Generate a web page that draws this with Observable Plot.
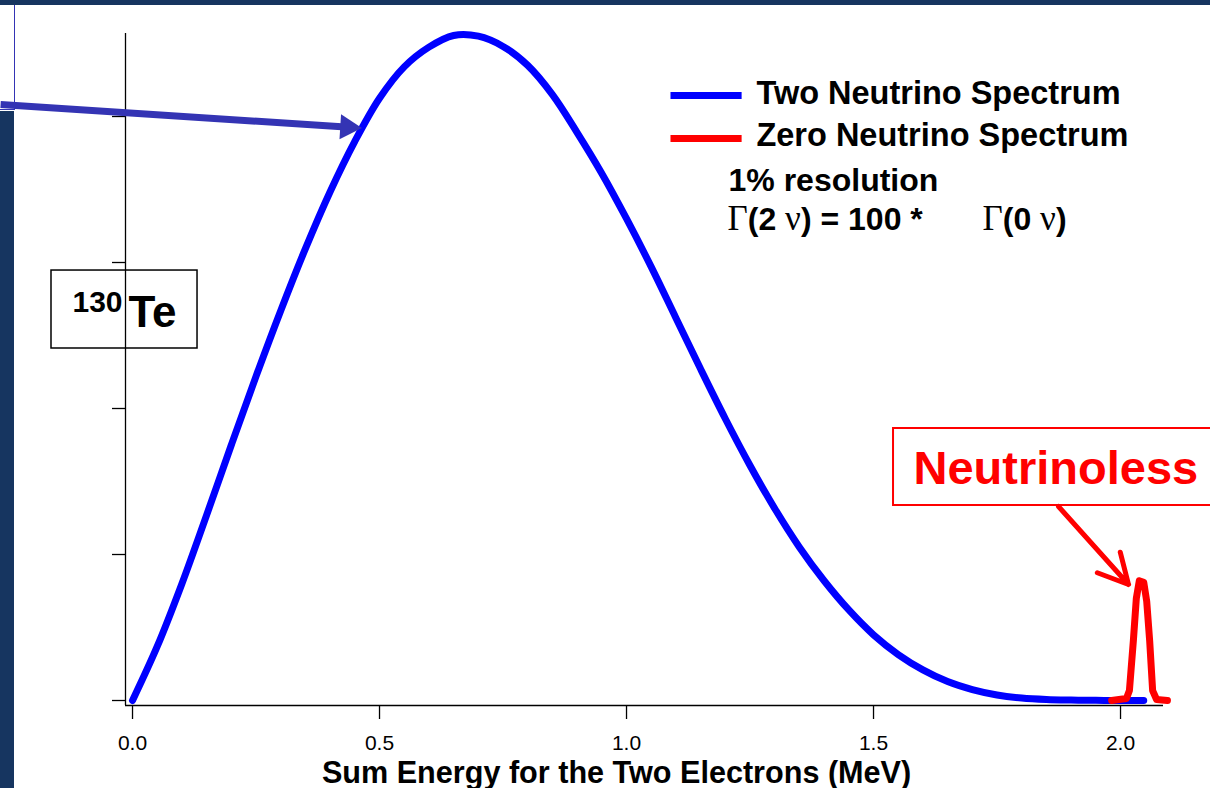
<!DOCTYPE html>
<html>
<head>
<meta charset="utf-8">
<script src="https://cdn.jsdelivr.net/npm/d3@7"></script>
<script src="https://cdn.jsdelivr.net/npm/@observablehq/plot@0.6"></script>
<style>
  html, body { margin: 0; padding: 0; background: #fff; }
  #slide { position: relative; width: 1210px; height: 788px; overflow: hidden;
           font-family: "Liberation Sans", Arial, Helvetica, sans-serif; }
  #slide svg { position: absolute; left: 0; top: 0; }
  .bar-top  { position: absolute; left: 0; top: 0; width: 1210px; height: 5px; background: #163560; }
  .bar-left { position: absolute; left: 0; top: 111px; width: 14px; height: 677px; background: #163560; }
  .side-box { position: absolute; left: -4px; top: -4px; width: 18px; height: 113px;
              border-right: 1.5px solid #3434b4; border-bottom: 1.5px solid #3434b4; }
</style>
</head>
<body>
<div id="slide"></div>
<script>
// Summed electron energy spectra for double beta decay (130Te), arbitrary units.
// Two-neutrino (continuous) spectrum.
const energyTwoNu = [0, 0.05, 0.10, 0.15, 0.20, 0.25, 0.30, 0.35, 0.40, 0.45,
                     0.50, 0.55, 0.60, 0.65, 0.70, 0.75, 0.80, 0.85, 0.90, 0.95,
                     1.00, 1.05, 1.10, 1.15, 1.20, 1.25, 1.30, 1.35, 1.40, 1.45,
                     1.50, 1.55, 1.60, 1.65, 1.70, 1.75, 1.80, 1.85, 1.90, 1.95,
                     2.00, 2.047];
const rateTwoNu   = [0, 0.37, 0.80, 1.27, 1.75, 2.22, 2.67, 3.095, 3.485, 3.83,
                     4.125, 4.34, 4.475, 4.555, 4.55, 4.48, 4.35, 4.15, 3.89, 3.61,
                     3.30, 2.97, 2.62, 2.27, 1.93, 1.61, 1.315, 1.05, 0.82, 0.62,
                     0.45, 0.315, 0.21, 0.13, 0.075, 0.038, 0.017, 0.007, 0.003, 0.001,
                     0, 0];

// Zero-neutrino line at the endpoint, smeared by 1% resolution.
const energyZeroNu = [1.982, 2.012, 2.018, 2.026, 2.032, 2.038, 2.047, 2.053, 2.059, 2.065, 2.073, 2.095];
const rateZeroNu   = [0, 0.014, 0.068, 0.41, 0.70, 0.82, 0.81, 0.68, 0.41, 0.068, 0.007, 0];

const xTicks = [0, 0.5, 1.0, 1.5, 2.0];
const yTicks = [0, 1, 2, 3, 4];
const seriesNames = ["Two Neutrino Spectrum", "Zero Neutrino Spectrum"];
const seriesColors = ["#0000ff", "#ff0000"];
const xLabel = "Sum Energy for the Two Electrons (MeV)";
const notes = ["1% resolution", "Γ(2 ν) = 100 *", "Γ(0 ν)"];
const isotopeMass = "130";
const isotopeSymbol = "Te";
const peakLabel = "Neutrinoless";

// ---- layout -------------------------------------------------------------
const W = 1210, H = 788;
const xDomain = [-0.0142, 2.0870];
const yDomain = [-0.0342, 4.5685];
const sans = "Liberation Sans, Arial, Helvetica, sans-serif";
const serif = "Liberation Serif, Times New Roman, serif";
const arrowBlue = "#3434b4";

const twoNu = energyTwoNu.map((e, i) => ({energy: e, rate: rateTwoNu[i]}));
const zeroNu = energyZeroNu.map((e, i) => ({energy: e, rate: rateZeroNu[i]}));

// Annotation anchors, in data units (MeV, rate)
const legendRows = seriesNames.map((name, i) => ({
  name, color: seriesColors[i],
  x1: 1.089, x2: 1.233, y: [4.144, 3.849][i],
  tx: 1.263, ty: [4.089, 3.795][i]
}));
const noteRows = [
  {text: notes[0], x: 1.2065, y: 3.493},
  {text: notes[1], x: 1.2045, y: 3.226},
  {text: notes[2], x: 1.7206, y: 3.226}
];
const isotopeBox = [{x1: -0.164, x2: 0.1316, y1: 2.411, y2: 2.945}];
const isotopeText = [
  {text: isotopeMass, x: -0.1215, y: 2.658, size: 30},
  {text: isotopeSymbol, x: -0.0081, y: 2.555, size: 44}
];
const pointerShaft = [{x1: -0.267, y1: 4.082, x2: 0.431, y2: 3.928}];
const pointerHead = [{x: 0.4352, y: 3.9274}];
const peakBox = [{x1: 1.5405, x2: 2.20, y1: 1.3356, y2: 1.863}];
const peakText = [{text: peakLabel, x: 1.581, y: 1.486}];
const peakArrow = [{x1: 1.8745, y1: 1.329, x2: 2.0162, y2: 0.7945}];
const axisTitle = [{text: xLabel, x: 0.9798, y: -0.568}];

const svg = Plot.plot({
  width: W,
  height: H,
  marginLeft: 125,
  marginRight: 47,
  marginTop: 33,
  marginBottom: 83,
  x: {domain: xDomain},
  y: {domain: yDomain},
  style: {fontFamily: sans, fontSize: "21px", background: "transparent", color: "black", overflow: "visible"},
  marks: [
    // isotope label box (sits behind the axis line)
    Plot.rect(isotopeBox, {x1: "x1", x2: "x2", y1: "y1", y2: "y2", fill: "none", stroke: "black", strokeWidth: 1.5}),
    Plot.text(isotopeText, {x: "x", y: "y", text: "text", fontSize: d => d.size, fontWeight: "bold",
                            textAnchor: "start", lineAnchor: "bottom", fill: "black"}),

    // axes
    Plot.ruleX([xDomain[0]], {stroke: "black", strokeWidth: 1.3}),
    Plot.ruleY([yDomain[0]], {stroke: "black", strokeWidth: 1.3}),
    Plot.axisY({ticks: yTicks, tickSize: 13, tickFormat: () => "", label: null, strokeWidth: 1.3}),
    Plot.axisX({ticks: xTicks, tickSize: 14, tickPadding: 16, tickFormat: d3.format(".1f"),
                label: null, fontSize: 21, strokeWidth: 1.3}),
    Plot.text(axisTitle, {x: "x", y: "y", text: "text", fontSize: 30.6, fontWeight: "bold",
                          textAnchor: "middle", lineAnchor: "bottom", fill: "black"}),

    // spectra
    Plot.line(twoNu, {x: "energy", y: "rate", stroke: seriesColors[0], strokeWidth: 7, curve: "catmull-rom"}),
    Plot.line(zeroNu, {x: "energy", y: "rate", stroke: seriesColors[1], strokeWidth: 7}),

    // pointer onto the two-neutrino curve
    Plot.link(pointerShaft, {x1: "x1", y1: "y1", x2: "x2", y2: "y2", stroke: arrowBlue, strokeWidth: 7, strokeLinecap: "butt"}),
    Plot.dot(pointerHead, {x: "x", y: "y", symbol: "triangle", r: 9.3, fill: arrowBlue, rotate: 93.6}),

    // legend
    Plot.link(legendRows, {x1: "x1", x2: "x2", y1: "y", y2: "y", stroke: "color", strokeWidth: 7, strokeLinecap: "butt"}),
    Plot.text(legendRows, {x: "tx", y: "ty", text: "name", fontSize: 32.5, fontWeight: "bold",
                           textAnchor: "start", lineAnchor: "bottom", fill: "black"}),
    Plot.text(noteRows, {x: "x", y: "y", text: "text", fontSize: 32, fontWeight: "bold",
                         textAnchor: "start", lineAnchor: "bottom", fill: "black"}),

    // neutrinoless call-out
    Plot.rect(peakBox, {x1: "x1", x2: "x2", y1: "y1", y2: "y2", fill: "none", stroke: "#ff0000", strokeWidth: 2}),
    Plot.text(peakText, {x: "x", y: "y", text: "text", fontSize: 47, fontWeight: "bold",
                         textAnchor: "start", lineAnchor: "bottom", fill: "#ff0000"}),
    Plot.arrow(peakArrow, {x1: "x1", y1: "y1", x2: "x2", y2: "y2", stroke: "#ff0000", strokeWidth: 5,
                           headLength: 10, headAngle: 55})
  ]
});

// Greek letters in the rate ratio are set in a slightly larger serif face
d3.select(svg).selectAll("text")
  .filter(function () { return /[Γν]/.test(this.textContent); })
  .each(function () {
    const t = d3.select(this);
    const s = this.textContent;
    t.text(null).style("white-space", "pre");
    s.split(/([Γν])/).filter(p => p.length).forEach(p => {
      const ts = t.append("tspan").text(p);
      if (/[Γν]/.test(p)) ts.attr("font-family", serif).attr("font-weight", "normal").attr("font-size", 35);
    });
  });

const slide = document.getElementById("slide");
slide.appendChild(svg);
for (const cls of ["side-box", "bar-top", "bar-left"]) {
  const d = document.createElement("div");
  d.className = cls;
  slide.appendChild(d);
}
</script>
</body>
</html>
